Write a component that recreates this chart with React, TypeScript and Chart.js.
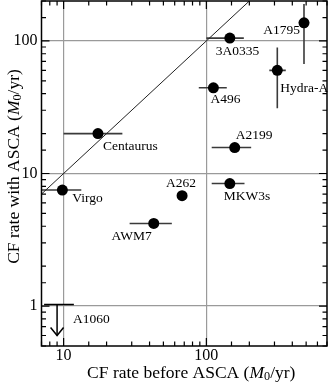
import React, { useEffect, useRef } from 'react';
import { Chart, registerables } from 'chart.js';
Chart.register(...registerables);

const FONT = "'Liberation Serif', 'DejaVu Serif', serif";

// Clusters (CF rate before ASCA on x, with ASCA on y), in M0/yr
const clusterNames = ['Virgo', 'Centaurus', 'AWM7', 'A262', 'MKW3s', 'A2199', 'A496', '3A0335', 'Hydra-A', 'A1795'];
const rateBefore = [9.8, 17.4, 42.8, 67.6, 146, 158, 112, 146, 314, 483];
const rateWith = [7.5, 20.0, 4.2, 6.8, 8.4, 15.7, 44.3, 105, 60, 137];
const beforeLow = [6.5, 10, 29, 67.6, 109, 109, 88.5, 100, 276, 445];
const beforeHigh = [13.3, 25.8, 57.3, 67.6, 185, 206, 139, 183, 360, 525];
const withLow = [7.5, 20.0, 4.2, 6.8, 8.4, 15.7, 44.3, 105, 31, 67];
const withHigh = [7.5, 20.0, 4.2, 6.8, 8.4, 15.7, 44.3, 105, 89, 190];

// Upper limit: A1060
const limitName = 'A1060';
const limitBefore = 9.0;
const limitBeforeLow = 7.3;
const limitBeforeHigh = 11.8;
const limitWith = 1.03;
const limitArrowTo = 0.6;

// y = x reference line
const equalityLine = [7, 200];

// axis ranges and labelled ticks
const xRange = [7, 700];
const yRange = [0.5, 200];
const xTickLabels = [10, 100];
const yTickLabels = [1, 10, 100];

// label placement (pixel offsets from the point, alignment)
const labelDx = [10, 5, -2, -1, -6, 1, -3, -14, 3, -4];
const labelDy = [8, 13, 13, -12, 13, -12, 12, 13, 18, 8];
const labelAlign: CanvasTextAlign[] = ['left', 'left', 'right', 'center', 'left', 'left', 'left', 'left', 'left', 'right'];

const isMajor = (v: number) => Math.abs(Math.log10(v) - Math.round(Math.log10(v))) < 1e-6;

function drawRich(ctx: CanvasRenderingContext2D, segs: { t: string; italic?: boolean; sub?: boolean }[], cx: number, cy: number, size: number) {
  const parts = segs.map((s) => {
    const fs = s.sub ? size * 0.7 : size;
    const font = `${s.italic ? 'italic ' : ''}${fs}px ${FONT}`;
    ctx.font = font;
    return { ...s, font, w: ctx.measureText(s.t).width };
  });
  const total = parts.reduce((a, p) => a + p.w, 0);
  let xx = cx - total / 2;
  ctx.textAlign = 'left';
  ctx.textBaseline = 'middle';
  for (const p of parts) {
    ctx.font = p.font;
    ctx.fillText(p.t, xx, cy + (p.sub ? size * 0.22 : 0));
    xx += p.w;
  }
}

const decor = {
  id: 'decor',
  beforeDatasetsDraw(chart: any) {
    const { ctx, chartArea: a, scales } = chart;
    const x = scales.x, y = scales.y;
    ctx.save();
    ctx.beginPath();
    ctx.rect(a.left, a.top, a.right - a.left, a.bottom - a.top);
    ctx.clip();
    ctx.strokeStyle = '#3a3a3a';
    ctx.lineWidth = 1.6;
    const line = (x1: number, y1: number, x2: number, y2: number) => {
      ctx.beginPath();
      ctx.moveTo(x1, y1);
      ctx.lineTo(x2, y2);
      ctx.stroke();
    };
    for (let i = 0; i < clusterNames.length; i++) {
      const px = x.getPixelForValue(rateBefore[i]);
      const py = y.getPixelForValue(rateWith[i]);
      if (beforeHigh[i] > beforeLow[i]) line(x.getPixelForValue(beforeLow[i]), py, x.getPixelForValue(beforeHigh[i]), py);
      if (withHigh[i] > withLow[i]) line(px, y.getPixelForValue(withLow[i]), px, y.getPixelForValue(withHigh[i]));
    }
    // upper limit
    ctx.strokeStyle = '#000';
    ctx.lineWidth = 1.5;
    const ly = y.getPixelForValue(limitWith);
    line(x.getPixelForValue(limitBeforeLow), ly, x.getPixelForValue(limitBeforeHigh), ly);
    const lx = x.getPixelForValue(limitBefore);
    const tip = y.getPixelForValue(limitArrowTo);
    line(lx, ly, lx, tip);
    ctx.beginPath();
    ctx.moveTo(lx - 6.5, tip - 8);
    ctx.lineTo(lx, tip);
    ctx.lineTo(lx + 6.5, tip - 8);
    ctx.stroke();
    ctx.restore();
  },
  afterDraw(chart: any) {
    const { ctx, chartArea: a, scales } = chart;
    const x = scales.x, y = scales.y;
    ctx.save();
    // inward ticks
    ctx.strokeStyle = '#000';
    ctx.lineWidth = 1.2;
    for (const t of x.ticks) {
      const px = x.getPixelForValue(t.value);
      const len = isMajor(t.value) ? 8 : 4.5;
      ctx.beginPath();
      ctx.moveTo(px, a.bottom); ctx.lineTo(px, a.bottom - len);
      ctx.moveTo(px, a.top); ctx.lineTo(px, a.top + len);
      ctx.stroke();
    }
    for (const t of y.ticks) {
      const py = y.getPixelForValue(t.value);
      const len = isMajor(t.value) ? 8 : 4.5;
      ctx.beginPath();
      ctx.moveTo(a.left, py); ctx.lineTo(a.left + len, py);
      ctx.moveTo(a.right, py); ctx.lineTo(a.right - len, py);
      ctx.stroke();
    }
    // frame
    ctx.lineWidth = 1.5;
    ctx.strokeRect(a.left, a.top, a.right - a.left, a.bottom - a.top);

    // tick labels
    ctx.fillStyle = '#000';
    ctx.font = `16px ${FONT}`;
    ctx.textBaseline = 'middle';
    ctx.textAlign = 'center';
    for (const v of xTickLabels) ctx.fillText(String(v), x.getPixelForValue(v), a.bottom + 10);
    ctx.textAlign = 'right';
    for (const v of yTickLabels) ctx.fillText(String(v), a.left - 4, y.getPixelForValue(v));

    // labels
    ctx.font = `13.5px ${FONT}`;
    for (let i = 0; i < clusterNames.length; i++) {
      const px = x.getPixelForValue(rateBefore[i]);
      const py = y.getPixelForValue(rateWith[i]);
      ctx.textAlign = labelAlign[i];
      ctx.fillText(clusterNames[i], px + labelDx[i], py + labelDy[i]);
    }
    ctx.textAlign = 'left';
    ctx.fillText(limitName, x.getPixelForValue(limitBefore) + 16, y.getPixelForValue(limitWith) + 15);

    // axis titles
    drawRich(ctx, [{ t: 'CF rate before ASCA (' }, { t: 'M', italic: true }, { t: '0', sub: true }, { t: '/yr)' }], (a.left + a.right) / 2 + 7, 373, 17.5);
    ctx.translate(14, (a.top + a.bottom) / 2 - 7);
    ctx.rotate(-Math.PI / 2);
    drawRich(ctx, [{ t: 'CF rate with ASCA (' }, { t: 'M', italic: true }, { t: '0', sub: true }, { t: '/yr)' }], 0, 0, 17.5);
    ctx.restore();
  },
};

export default function App() {
  const ref = useRef<HTMLCanvasElement>(null);
  useEffect(() => {
    document.body.style.margin = '0';
    const chart = new Chart(ref.current as HTMLCanvasElement, {
      type: 'scatter',
      data: {
        datasets: [
          {
            type: 'line',
            data: equalityLine.map((v) => ({ x: v, y: v })),
            borderColor: '#222',
            borderWidth: 1,
            pointRadius: 0,
            fill: false,
          } as any,
          {
            type: 'scatter',
            data: rateBefore.map((v, i) => ({ x: v, y: rateWith[i] })),
            backgroundColor: '#000',
            borderColor: '#000',
            borderWidth: 0,
            pointRadius: 5.5,
          },
        ],
      },
      options: {
        animation: false,
        responsive: true,
        maintainAspectRatio: false,
        layout: { autoPadding: false, padding: { top: 1, right: 1, left: 0, bottom: 0 } },
        plugins: { legend: { display: false }, tooltip: { enabled: false } },
        scales: {
          x: {
            type: 'logarithmic',
            min: xRange[0],
            max: xRange[1],
            afterFit: (s: any) => { s.height = 36; },
            border: { display: false },
            grid: {
              color: (c: any) => (c.tick && isMajor(c.tick.value) ? '#9a9a9a' : 'rgba(0,0,0,0)'),
              lineWidth: 1.2,
              drawTicks: false,
            },
            ticks: { display: false, autoSkip: false },
          },
          y: {
            type: 'logarithmic',
            min: yRange[0],
            max: yRange[1],
            afterFit: (s: any) => { s.width = 41.5; },
            border: { display: false },
            grid: {
              color: (c: any) => (c.tick && isMajor(c.tick.value) ? '#9a9a9a' : 'rgba(0,0,0,0)'),
              lineWidth: 1.2,
              drawTicks: false,
            },
            ticks: { display: false, autoSkip: false },
          },
        },
      },
      plugins: [decor],
    });
    return () => chart.destroy();
  }, []);
  return (
    <div style={{ position: 'relative', width: 328, height: 382 }}>
      <canvas ref={ref} />
    </div>
  );
}
